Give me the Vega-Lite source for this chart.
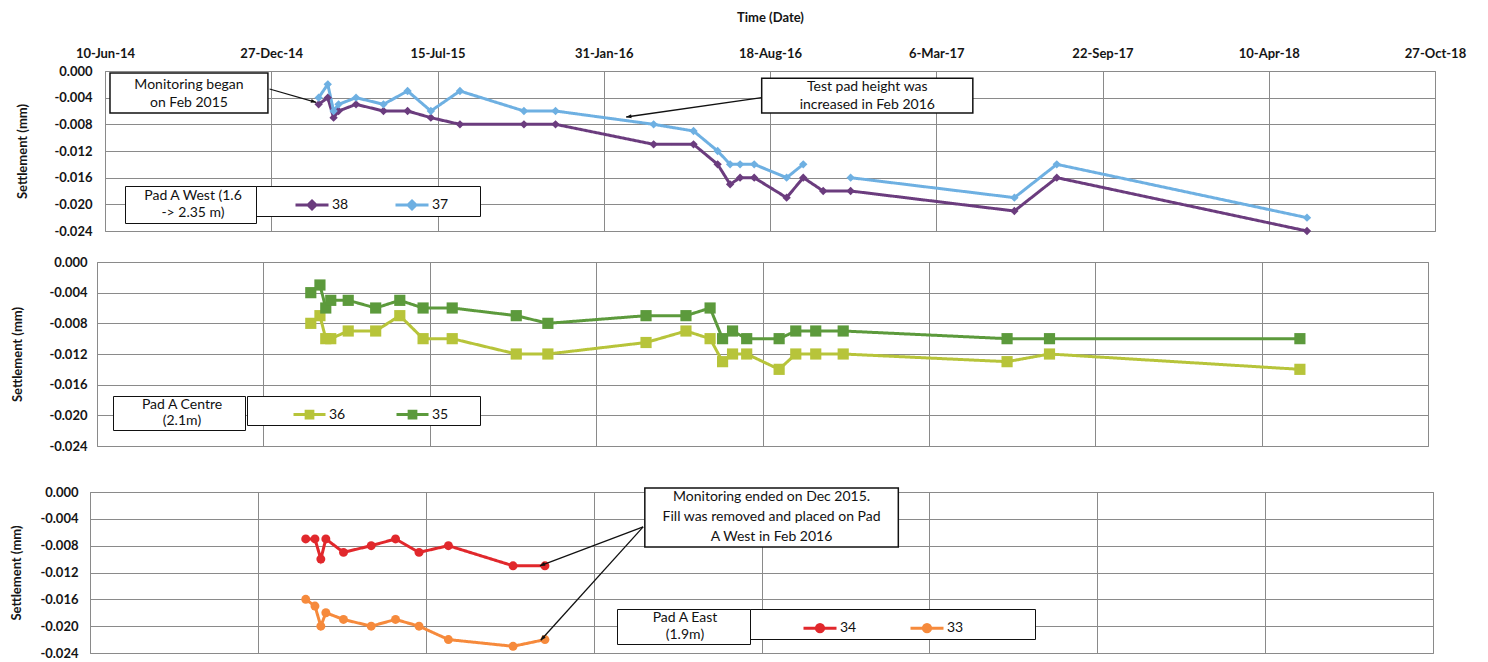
{
  "$schema": "https://vega.github.io/schema/vega-lite/v6.json",
  "background": "white",
  "padding": {"left": 10, "top": 10, "right": 5, "bottom": 2},
  "datasets": {
    "west": [
      {"date": "2015-02-22", "point": "38", "pad": "Pad A West", "settlement": -0.005},
      {"date": "2015-03-05", "point": "38", "pad": "Pad A West", "settlement": -0.004},
      {"date": "2015-03-12", "point": "38", "pad": "Pad A West", "settlement": -0.007},
      {"date": "2015-03-18", "point": "38", "pad": "Pad A West", "settlement": -0.006},
      {"date": "2015-04-08", "point": "38", "pad": "Pad A West", "settlement": -0.005},
      {"date": "2015-05-11", "point": "38", "pad": "Pad A West", "settlement": -0.006},
      {"date": "2015-06-09", "point": "38", "pad": "Pad A West", "settlement": -0.006},
      {"date": "2015-07-07", "point": "38", "pad": "Pad A West", "settlement": -0.007},
      {"date": "2015-08-11", "point": "38", "pad": "Pad A West", "settlement": -0.008},
      {"date": "2015-10-27", "point": "38", "pad": "Pad A West", "settlement": -0.008},
      {"date": "2015-12-04", "point": "38", "pad": "Pad A West", "settlement": -0.008},
      {"date": "2016-03-31", "point": "38", "pad": "Pad A West", "settlement": -0.011},
      {"date": "2016-05-18", "point": "38", "pad": "Pad A West", "settlement": -0.011},
      {"date": "2016-06-16", "point": "38", "pad": "Pad A West", "settlement": -0.014},
      {"date": "2016-07-01", "point": "38", "pad": "Pad A West", "settlement": -0.017},
      {"date": "2016-07-13", "point": "38", "pad": "Pad A West", "settlement": -0.016},
      {"date": "2016-07-30", "point": "38", "pad": "Pad A West", "settlement": -0.016},
      {"date": "2016-09-07", "point": "38", "pad": "Pad A West", "settlement": -0.019},
      {"date": "2016-09-27", "point": "38", "pad": "Pad A West", "settlement": -0.016},
      {"date": "2016-10-21", "point": "38", "pad": "Pad A West", "settlement": -0.018},
      {"date": "2016-11-23", "point": "38", "pad": "Pad A West", "settlement": -0.018},
      {"date": "2017-06-08", "point": "38", "pad": "Pad A West", "settlement": -0.021},
      {"date": "2017-07-29", "point": "38", "pad": "Pad A West", "settlement": -0.016},
      {"date": "2018-05-26", "point": "38", "pad": "Pad A West", "settlement": -0.024},
      {"date": "2015-02-22", "point": "37", "pad": "Pad A West", "settlement": -0.004},
      {"date": "2015-03-05", "point": "37", "pad": "Pad A West", "settlement": -0.002},
      {"date": "2015-03-12", "point": "37", "pad": "Pad A West", "settlement": -0.006},
      {"date": "2015-03-18", "point": "37", "pad": "Pad A West", "settlement": -0.005},
      {"date": "2015-04-08", "point": "37", "pad": "Pad A West", "settlement": -0.004},
      {"date": "2015-05-11", "point": "37", "pad": "Pad A West", "settlement": -0.005},
      {"date": "2015-06-09", "point": "37", "pad": "Pad A West", "settlement": -0.003},
      {"date": "2015-07-07", "point": "37", "pad": "Pad A West", "settlement": -0.006},
      {"date": "2015-08-11", "point": "37", "pad": "Pad A West", "settlement": -0.003},
      {"date": "2015-10-27", "point": "37", "pad": "Pad A West", "settlement": -0.006},
      {"date": "2015-12-04", "point": "37", "pad": "Pad A West", "settlement": -0.006},
      {"date": "2016-03-31", "point": "37", "pad": "Pad A West", "settlement": -0.008},
      {"date": "2016-05-18", "point": "37", "pad": "Pad A West", "settlement": -0.009},
      {"date": "2016-06-16", "point": "37", "pad": "Pad A West", "settlement": -0.012},
      {"date": "2016-07-01", "point": "37", "pad": "Pad A West", "settlement": -0.014},
      {"date": "2016-07-13", "point": "37", "pad": "Pad A West", "settlement": -0.014},
      {"date": "2016-07-30", "point": "37", "pad": "Pad A West", "settlement": -0.014},
      {"date": "2016-09-07", "point": "37", "pad": "Pad A West", "settlement": -0.016},
      {"date": "2016-09-27", "point": "37", "pad": "Pad A West", "settlement": -0.014},
      {"date": "2016-10-21", "point": "37", "pad": "Pad A West", "settlement": null},
      {"date": "2016-11-23", "point": "37", "pad": "Pad A West", "settlement": -0.016},
      {"date": "2017-06-08", "point": "37", "pad": "Pad A West", "settlement": -0.019},
      {"date": "2017-07-29", "point": "37", "pad": "Pad A West", "settlement": -0.014},
      {"date": "2018-05-26", "point": "37", "pad": "Pad A West", "settlement": -0.022}
    ],
    "centre": [
      {"date": "2015-02-22", "point": "36", "pad": "Pad A Centre", "settlement": -0.008},
      {"date": "2015-03-05", "point": "36", "pad": "Pad A Centre", "settlement": -0.007},
      {"date": "2015-03-12", "point": "36", "pad": "Pad A Centre", "settlement": -0.010},
      {"date": "2015-03-18", "point": "36", "pad": "Pad A Centre", "settlement": -0.010},
      {"date": "2015-04-08", "point": "36", "pad": "Pad A Centre", "settlement": -0.009},
      {"date": "2015-05-11", "point": "36", "pad": "Pad A Centre", "settlement": -0.009},
      {"date": "2015-06-09", "point": "36", "pad": "Pad A Centre", "settlement": -0.007},
      {"date": "2015-07-07", "point": "36", "pad": "Pad A Centre", "settlement": -0.010},
      {"date": "2015-08-11", "point": "36", "pad": "Pad A Centre", "settlement": -0.010},
      {"date": "2015-10-27", "point": "36", "pad": "Pad A Centre", "settlement": -0.012},
      {"date": "2015-12-04", "point": "36", "pad": "Pad A Centre", "settlement": -0.012},
      {"date": "2016-03-31", "point": "36", "pad": "Pad A Centre", "settlement": -0.0105},
      {"date": "2016-05-18", "point": "36", "pad": "Pad A Centre", "settlement": -0.009},
      {"date": "2016-06-16", "point": "36", "pad": "Pad A Centre", "settlement": -0.010},
      {"date": "2016-07-01", "point": "36", "pad": "Pad A Centre", "settlement": -0.013},
      {"date": "2016-07-13", "point": "36", "pad": "Pad A Centre", "settlement": -0.012},
      {"date": "2016-07-30", "point": "36", "pad": "Pad A Centre", "settlement": -0.012},
      {"date": "2016-09-07", "point": "36", "pad": "Pad A Centre", "settlement": -0.014},
      {"date": "2016-09-27", "point": "36", "pad": "Pad A Centre", "settlement": -0.012},
      {"date": "2016-10-21", "point": "36", "pad": "Pad A Centre", "settlement": -0.012},
      {"date": "2016-11-23", "point": "36", "pad": "Pad A Centre", "settlement": -0.012},
      {"date": "2017-06-08", "point": "36", "pad": "Pad A Centre", "settlement": -0.013},
      {"date": "2017-07-29", "point": "36", "pad": "Pad A Centre", "settlement": -0.012},
      {"date": "2018-05-26", "point": "36", "pad": "Pad A Centre", "settlement": -0.014},
      {"date": "2015-02-22", "point": "35", "pad": "Pad A Centre", "settlement": -0.004},
      {"date": "2015-03-05", "point": "35", "pad": "Pad A Centre", "settlement": -0.003},
      {"date": "2015-03-12", "point": "35", "pad": "Pad A Centre", "settlement": -0.006},
      {"date": "2015-03-18", "point": "35", "pad": "Pad A Centre", "settlement": -0.005},
      {"date": "2015-04-08", "point": "35", "pad": "Pad A Centre", "settlement": -0.005},
      {"date": "2015-05-11", "point": "35", "pad": "Pad A Centre", "settlement": -0.006},
      {"date": "2015-06-09", "point": "35", "pad": "Pad A Centre", "settlement": -0.005},
      {"date": "2015-07-07", "point": "35", "pad": "Pad A Centre", "settlement": -0.006},
      {"date": "2015-08-11", "point": "35", "pad": "Pad A Centre", "settlement": -0.006},
      {"date": "2015-10-27", "point": "35", "pad": "Pad A Centre", "settlement": -0.007},
      {"date": "2015-12-04", "point": "35", "pad": "Pad A Centre", "settlement": -0.008},
      {"date": "2016-03-31", "point": "35", "pad": "Pad A Centre", "settlement": -0.007},
      {"date": "2016-05-18", "point": "35", "pad": "Pad A Centre", "settlement": -0.007},
      {"date": "2016-06-16", "point": "35", "pad": "Pad A Centre", "settlement": -0.006},
      {"date": "2016-07-01", "point": "35", "pad": "Pad A Centre", "settlement": -0.010},
      {"date": "2016-07-13", "point": "35", "pad": "Pad A Centre", "settlement": -0.009},
      {"date": "2016-07-30", "point": "35", "pad": "Pad A Centre", "settlement": -0.010},
      {"date": "2016-09-07", "point": "35", "pad": "Pad A Centre", "settlement": -0.010},
      {"date": "2016-09-27", "point": "35", "pad": "Pad A Centre", "settlement": -0.009},
      {"date": "2016-10-21", "point": "35", "pad": "Pad A Centre", "settlement": -0.009},
      {"date": "2016-11-23", "point": "35", "pad": "Pad A Centre", "settlement": -0.009},
      {"date": "2017-06-08", "point": "35", "pad": "Pad A Centre", "settlement": -0.010},
      {"date": "2017-07-29", "point": "35", "pad": "Pad A Centre", "settlement": -0.010},
      {"date": "2018-05-26", "point": "35", "pad": "Pad A Centre", "settlement": -0.010}
    ],
    "east": [
      {"date": "2015-02-22", "point": "34", "pad": "Pad A East", "settlement": -0.007},
      {"date": "2015-03-05", "point": "34", "pad": "Pad A East", "settlement": -0.007},
      {"date": "2015-03-12", "point": "34", "pad": "Pad A East", "settlement": -0.010},
      {"date": "2015-03-18", "point": "34", "pad": "Pad A East", "settlement": -0.007},
      {"date": "2015-04-08", "point": "34", "pad": "Pad A East", "settlement": -0.009},
      {"date": "2015-05-11", "point": "34", "pad": "Pad A East", "settlement": -0.008},
      {"date": "2015-06-09", "point": "34", "pad": "Pad A East", "settlement": -0.007},
      {"date": "2015-07-07", "point": "34", "pad": "Pad A East", "settlement": -0.009},
      {"date": "2015-08-11", "point": "34", "pad": "Pad A East", "settlement": -0.008},
      {"date": "2015-10-27", "point": "34", "pad": "Pad A East", "settlement": -0.011},
      {"date": "2015-12-04", "point": "34", "pad": "Pad A East", "settlement": -0.011},
      {"date": "2015-02-22", "point": "33", "pad": "Pad A East", "settlement": -0.016},
      {"date": "2015-03-05", "point": "33", "pad": "Pad A East", "settlement": -0.017},
      {"date": "2015-03-12", "point": "33", "pad": "Pad A East", "settlement": -0.020},
      {"date": "2015-03-18", "point": "33", "pad": "Pad A East", "settlement": -0.018},
      {"date": "2015-04-08", "point": "33", "pad": "Pad A East", "settlement": -0.019},
      {"date": "2015-05-11", "point": "33", "pad": "Pad A East", "settlement": -0.020},
      {"date": "2015-06-09", "point": "33", "pad": "Pad A East", "settlement": -0.019},
      {"date": "2015-07-07", "point": "33", "pad": "Pad A East", "settlement": -0.020},
      {"date": "2015-08-11", "point": "33", "pad": "Pad A East", "settlement": -0.022},
      {"date": "2015-10-27", "point": "33", "pad": "Pad A East", "settlement": -0.023},
      {"date": "2015-12-04", "point": "33", "pad": "Pad A East", "settlement": -0.022}
    ],
    "west_boxes": [
      {"date": "2014-06-16", "date_end": "2014-12-23", "settlement": -0.0003, "settlement_end": -0.0063},
      {"date": "2016-08-08", "date_end": "2017-04-19", "settlement": -0.0011, "settlement_end": -0.0063}
    ],
    "west_labels": [
      {"date": "2014-09-19", "settlement": -0.0034, "note": "Monitoring began\non Feb 2015"},
      {"date": "2016-12-13", "settlement": -0.0037, "note": "Test pad height was\nincreased in Feb 2016"}
    ],
    "west_arrows": [
      {"arrow": "began", "date": "2015-02-19", "settlement": -0.0047, "date_end": "2014-12-25", "settlement_end": -0.0027},
      {"arrow": "raised", "date": "2016-02-27", "settlement": -0.0069, "date_end": "2016-08-08", "settlement_end": -0.0040}
    ],
    "east_boxes": [
      {"date": "2016-04-01", "date_end": "2017-01-28", "settlement": 0.0006, "settlement_end": -0.0082}
    ],
    "east_labels": [
      {"date": "2016-08-30", "settlement": -0.0038, "note": "Monitoring ended on Dec 2015.\nFill was removed and placed on Pad\nA West in Feb 2016"}
    ],
    "east_arrows": [
      {"arrow": "34", "date": "2015-11-28", "settlement": -0.0110, "date_end": "2016-03-30", "settlement_end": -0.0052},
      {"arrow": "33", "date": "2015-11-29", "settlement": -0.0221, "date_end": "2016-03-30", "settlement_end": -0.0052}
    ]
  },
  "config": {
    "font": "Lato",
    "view": {"stroke": "#8a8a8a", "strokeWidth": 1},
    "axis": {
      "grid": true, "gridColor": "#8a8a8a", "gridOpacity": 1, "gridWidth": 1,
      "domain": false, "ticks": false, "labelOverlap": false,
      "labelFont": "Lato", "labelFontWeight": "bold", "labelFontSize": 13, "labelColor": "#151515",
      "titleFont": "Lato", "titleFontWeight": "bold", "titleFontSize": 13, "titleColor": "#151515"
    },
    "axisX": {"labelFlush": false},
    "axisY": {"tickCount": 7},
    "legend": {
      "orient": "none", "direction": "horizontal", "title": null,
      "labelFont": "Lato", "labelFontSize": 14, "labelColor": "#111111", "labelLimit": 500,
      "strokeColor": "#111111", "fillColor": "white", "padding": 1
    },
    "text": {"font": "Lato", "fontSize": 14, "color": "#111111"}
  },
  "spacing": 16,
  "bounds": "full",
  "resolve": {
    "scale": {"color": "independent", "strokeDash": "independent"},
    "legend": {"color": "independent", "strokeDash": "independent"}
  },
  "vconcat": [
    {
      "spacing": 0,
      "bounds": "flush",
      "resolve": {
        "scale": {"color": "independent", "strokeDash": "independent"},
        "legend": {"color": "independent", "strokeDash": "independent"}
      },
      "hconcat": [
        {"width": 15, "height": 160, "data": {"values": []}, "mark": {"type": "point", "opacity": 0}, "view": {"stroke": null}},
        {
          "width": 1330,
          "height": 160,
          "layer": [
            {
              "data": {"name": "west"},
              "mark": {"type": "line", "strokeWidth": 3, "invalid": "break-paths-show-domains"},
              "encoding": {
                "x": {
                  "field": "date", "type": "temporal",
                  "scale": {"type": "utc", "domain": [{"year": 2014, "month": 6, "date": 10, "utc": true}, {"year": 2018, "month": 10, "date": 27, "utc": true}]},
                  "axis": {
                    "orient": "top", "title": "Time (Date)", "labelPadding": 11, "titlePadding": 23,
                    "labelExpr": "utcFormat(datum.value, '%-d-%b-%y')",
                    "values": [
                      {"year": 2014, "month": 6, "date": 10, "utc": true},
                      {"year": 2014, "month": 12, "date": 27, "utc": true},
                      {"year": 2015, "month": 7, "date": 15, "utc": true},
                      {"year": 2016, "month": 1, "date": 31, "utc": true},
                      {"year": 2016, "month": 8, "date": 18, "utc": true},
                      {"year": 2017, "month": 3, "date": 6, "utc": true},
                      {"year": 2017, "month": 9, "date": 22, "utc": true},
                      {"year": 2018, "month": 4, "date": 10, "utc": true},
                      {"year": 2018, "month": 10, "date": 27, "utc": true}
                    ]
                  }
                },
                "y": {
                  "field": "settlement", "type": "quantitative",
                  "scale": {"domain": [-0.024, 0], "nice": false, "zero": false},
                  "axis": {
                    "title": "Settlement (mm)", "labelPadding": 13, "titlePadding": 24,
                    "values": [-0.024, -0.02, -0.016, -0.012, -0.008, -0.004, 0],
                    "labelExpr": "datum.value == 0 ? '0.000' : '-' + format(abs(datum.value), '.3f')"
                  }
                },
                "color": {
                  "field": "point", "type": "nominal",
                  "scale": {"domain": ["38", "37"], "range": ["#6b3c7e", "#6eb0e2"]},
                  "legend": {
                    "legendX": 151, "legendY": 115,
                    "symbolType": "M-1,0H1M0,-0.24L0.24,0L0,0.24L-0.24,0Z",
                    "symbolSize": 1089, "symbolStrokeWidth": 3, "symbolOffset": 37,
                    "labelOffset": 2, "columnPadding": 8,
                    "labelExpr": "datum.label == '37' ? datum.label + '\u2800\u2800\u2800' : datum.label"
                  }
                },
                "strokeDash": {
                  "field": "pad", "type": "nominal",
                  "scale": {"range": [[1, 0]]},
                  "legend": {
                    "legendX": 20, "legendY": 115, "padding": 3,
                    "symbolSize": 0, "symbolStrokeWidth": 0, "symbolOpacity": 0,
                    "labelAlign": "center", "labelOffset": 51,
                    "labelExpr": "['\u2800Pad A West (1.6\u2800', '-> 2.35 m)']",
                    "encode": {"labels": {"update": {"lineHeight": {"value": 17}}}}
                  }
                }
              }
            },
            {
              "data": {"name": "west"},
              "mark": {"type": "point", "shape": "diamond", "filled": true, "opacity": 1, "size": 70},
              "encoding": {
                "x": {"field": "date", "type": "temporal"},
                "y": {"field": "settlement", "type": "quantitative"},
                "color": {"field": "point", "type": "nominal"}
              }
            },
            {
              "data": {"name": "west_boxes"},
              "mark": {"type": "rect", "fill": "white", "stroke": "#111111", "strokeWidth": 1.5},
              "encoding": {
                "x": {"field": "date", "type": "temporal"},
                "x2": {"field": "date_end"},
                "y": {"field": "settlement", "type": "quantitative"},
                "y2": {"field": "settlement_end"}
              }
            },
            {
              "data": {"name": "west_labels"},
              "mark": {"type": "text", "lineBreak": "\n", "align": "center", "baseline": "middle", "lineHeight": 18, "dy": -9},
              "encoding": {
                "x": {"field": "date", "type": "temporal"},
                "y": {"field": "settlement", "type": "quantitative"},
                "text": {"field": "note"}
              }
            },
            {
              "data": {"name": "west_arrows"},
              "mark": {"type": "rule", "stroke": "#111111", "strokeWidth": 1.3},
              "encoding": {
                "x": {"field": "date", "type": "temporal"},
                "x2": {"field": "date_end"},
                "y": {"field": "settlement", "type": "quantitative"},
                "y2": {"field": "settlement_end"}
              }
            },
            {
              "data": {"name": "west_arrows"},
              "transform": [{"filter": "datum.arrow == 'began'"}],
              "mark": {"type": "point", "shape": "M0,0L-0.5,1.3L0.5,1.3Z", "filled": true, "color": "#111111", "opacity": 1, "size": 64, "angle": 106},
              "encoding": {
                "x": {"field": "date", "type": "temporal"},
                "y": {"field": "settlement", "type": "quantitative"}
              }
            },
            {
              "data": {"name": "west_arrows"},
              "transform": [{"filter": "datum.arrow == 'raised'"}],
              "mark": {"type": "point", "shape": "M0,0L-0.5,1.3L0.5,1.3Z", "filled": true, "color": "#111111", "opacity": 1, "size": 64, "angle": 262},
              "encoding": {
                "x": {"field": "date", "type": "temporal"},
                "y": {"field": "settlement", "type": "quantitative"}
              }
            }
          ]
        }
      ]
    },
    {
      "spacing": 31,
      "bounds": "full",
      "resolve": {
        "scale": {"color": "independent", "strokeDash": "independent"},
        "legend": {"color": "independent", "strokeDash": "independent"}
      },
      "vconcat": [
        {
          "spacing": 0,
          "bounds": "flush",
          "resolve": {
            "scale": {"color": "independent", "strokeDash": "independent"},
            "legend": {"color": "independent", "strokeDash": "independent"}
          },
          "hconcat": [
            {"width": 7, "height": 184, "data": {"values": []}, "mark": {"type": "point", "opacity": 0}, "view": {"stroke": null}},
            {
              "width": 1331,
              "height": 184,
              "layer": [
                {
                  "data": {"name": "centre"},
                  "mark": {"type": "line", "strokeWidth": 3},
                  "encoding": {
                    "x": {
                      "field": "date", "type": "temporal",
                      "scale": {"type": "utc", "domain": [{"year": 2014, "month": 6, "date": 10, "utc": true}, {"year": 2018, "month": 10, "date": 27, "utc": true}]},
                      "axis": {
                        "labels": false, "title": null,
                        "values": [
                          {"year": 2014, "month": 6, "date": 10, "utc": true},
                          {"year": 2014, "month": 12, "date": 27, "utc": true},
                          {"year": 2015, "month": 7, "date": 15, "utc": true},
                          {"year": 2016, "month": 1, "date": 31, "utc": true},
                          {"year": 2016, "month": 8, "date": 18, "utc": true},
                          {"year": 2017, "month": 3, "date": 6, "utc": true},
                          {"year": 2017, "month": 9, "date": 22, "utc": true},
                          {"year": 2018, "month": 4, "date": 10, "utc": true},
                          {"year": 2018, "month": 10, "date": 27, "utc": true}
                        ]
                      }
                    },
                    "y": {
                      "field": "settlement", "type": "quantitative",
                      "scale": {"domain": [-0.024, 0], "nice": false, "zero": false},
                      "axis": {
                        "title": "Settlement (mm)", "labelPadding": 10, "titlePadding": 24,
                        "values": [-0.024, -0.02, -0.016, -0.012, -0.008, -0.004, 0],
                        "labelExpr": "datum.value == 0 ? '0.000' : '-' + format(abs(datum.value), '.3f')"
                      }
                    },
                    "color": {
                      "field": "point", "type": "nominal",
                      "scale": {"domain": ["36", "35"], "range": ["#b7c43a", "#5c9a3c"]},
                      "legend": {
                        "legendX": 150, "legendY": 134,
                        "symbolType": "M-1,0H1M-0.21,-0.21H0.21V0.21H-0.21Z",
                        "symbolSize": 1024, "symbolStrokeWidth": 3, "symbolOffset": 44,
                        "labelOffset": 2, "columnPadding": 5,
                        "labelExpr": "datum.label == '35' ? datum.label + '\u2800\u2800\u2800' : datum.label"
                      }
                    },
                    "strokeDash": {
                      "field": "pad", "type": "nominal",
                      "scale": {"range": [[1, 0]]},
                      "legend": {
                        "legendX": 16, "legendY": 134, "padding": 2,
                        "symbolSize": 0, "symbolStrokeWidth": 0, "symbolOpacity": 0,
                        "labelAlign": "center", "labelOffset": 53,
                        "labelExpr": "['\u2800\u2800Pad A Centre\u2800\u2800', '(2.1m)']",
                        "encode": {"labels": {"update": {"lineHeight": {"value": 16}}}}
                      }
                    }
                  }
                },
                {
                  "data": {"name": "centre"},
                  "mark": {"type": "point", "shape": "square", "filled": true, "opacity": 1, "size": 125},
                  "encoding": {
                    "x": {"field": "date", "type": "temporal"},
                    "y": {"field": "settlement", "type": "quantitative"},
                    "color": {"field": "point", "type": "nominal"}
                  }
                }
              ]
            }
          ]
        },
        {
          "width": 1343,
          "height": 161,
          "layer": [
            {
              "data": {"name": "east"},
              "mark": {"type": "line", "strokeWidth": 3},
              "encoding": {
                "x": {
                  "field": "date", "type": "temporal",
                  "scale": {"type": "utc", "domain": [{"year": 2014, "month": 6, "date": 10, "utc": true}, {"year": 2018, "month": 10, "date": 27, "utc": true}]},
                  "axis": {
                    "labels": false, "title": null,
                    "values": [
                      {"year": 2014, "month": 6, "date": 10, "utc": true},
                      {"year": 2014, "month": 12, "date": 27, "utc": true},
                      {"year": 2015, "month": 7, "date": 15, "utc": true},
                      {"year": 2016, "month": 1, "date": 31, "utc": true},
                      {"year": 2016, "month": 8, "date": 18, "utc": true},
                      {"year": 2017, "month": 3, "date": 6, "utc": true},
                      {"year": 2017, "month": 9, "date": 22, "utc": true},
                      {"year": 2018, "month": 4, "date": 10, "utc": true},
                      {"year": 2018, "month": 10, "date": 27, "utc": true}
                    ]
                  }
                },
                "y": {
                  "field": "settlement", "type": "quantitative",
                  "scale": {"domain": [-0.024, 0], "nice": false, "zero": false},
                  "axis": {
                    "title": "Settlement (mm)", "labelPadding": 12, "titlePadding": 16,
                    "values": [-0.024, -0.02, -0.016, -0.012, -0.008, -0.004, 0],
                    "labelExpr": "datum.value == 0 ? '0.000' : '-' + format(abs(datum.value), '.3f')"
                  }
                },
                "color": {
                  "field": "point", "type": "nominal",
                  "scale": {"domain": ["34", "33"], "range": ["#e1282c", "#f68a3c"]},
                  "legend": {
                    "legendX": 660, "legendY": 117,
                    "symbolType": "M-1,0H1M-0.22,0A0.22,0.22,0,1,1,0.22,0A0.22,0.22,0,1,1,-0.22,0Z",
                    "symbolSize": 1089, "symbolStrokeWidth": 3, "symbolOffset": 51,
                    "labelOffset": 2, "columnPadding": 1,
                    "labelExpr": "datum.label == '33' ? datum.label + '\u2800\u2800\u2800\u2800\u2800\u2800\u2800' : datum.label"
                  }
                },
                "strokeDash": {
                  "field": "pad", "type": "nominal",
                  "scale": {"range": [[1, 0]]},
                  "legend": {
                    "legendX": 527, "legendY": 117, "padding": 2,
                    "symbolSize": 0, "symbolStrokeWidth": 0, "symbolOpacity": 0,
                    "labelAlign": "center", "labelOffset": 52,
                    "labelExpr": "['\u2800\u2800\u2800Pad A East\u2800\u2800\u2800', '(1.9m)']",
                    "encode": {"labels": {"update": {"lineHeight": {"value": 17}}}}
                  }
                }
              }
            },
            {
              "data": {"name": "east"},
              "mark": {"type": "point", "shape": "circle", "filled": true, "opacity": 1, "size": 80},
              "encoding": {
                "x": {"field": "date", "type": "temporal"},
                "y": {"field": "settlement", "type": "quantitative"},
                "color": {"field": "point", "type": "nominal"}
              }
            },
            {
              "data": {"name": "east_boxes"},
              "mark": {"type": "rect", "fill": "white", "stroke": "#111111", "strokeWidth": 1.5},
              "encoding": {
                "x": {"field": "date", "type": "temporal"},
                "x2": {"field": "date_end"},
                "y": {"field": "settlement", "type": "quantitative"},
                "y2": {"field": "settlement_end"}
              }
            },
            {
              "data": {"name": "east_labels"},
              "mark": {"type": "text", "lineBreak": "\n", "align": "center", "baseline": "middle", "lineHeight": 20, "dy": -20},
              "encoding": {
                "x": {"field": "date", "type": "temporal"},
                "y": {"field": "settlement", "type": "quantitative"},
                "text": {"field": "note"}
              }
            },
            {
              "data": {"name": "east_arrows"},
              "mark": {"type": "rule", "stroke": "#111111", "strokeWidth": 1.3},
              "encoding": {
                "x": {"field": "date", "type": "temporal"},
                "x2": {"field": "date_end"},
                "y": {"field": "settlement", "type": "quantitative"},
                "y2": {"field": "settlement_end"}
              }
            },
            {
              "data": {"name": "east_arrows"},
              "transform": [{"filter": "datum.arrow == '34'"}],
              "mark": {"type": "point", "shape": "M0,0L-0.5,1.3L0.5,1.3Z", "filled": true, "color": "#111111", "opacity": 1, "size": 64, "angle": 249},
              "encoding": {
                "x": {"field": "date", "type": "temporal"},
                "y": {"field": "settlement", "type": "quantitative"}
              }
            },
            {
              "data": {"name": "east_arrows"},
              "transform": [{"filter": "datum.arrow == '33'"}],
              "mark": {"type": "point", "shape": "M0,0L-0.5,1.3L0.5,1.3Z", "filled": true, "color": "#111111", "opacity": 1, "size": 64, "angle": 222},
              "encoding": {
                "x": {"field": "date", "type": "temporal"},
                "y": {"field": "settlement", "type": "quantitative"}
              }
            }
          ]
        }
      ]
    }
  ]
}
